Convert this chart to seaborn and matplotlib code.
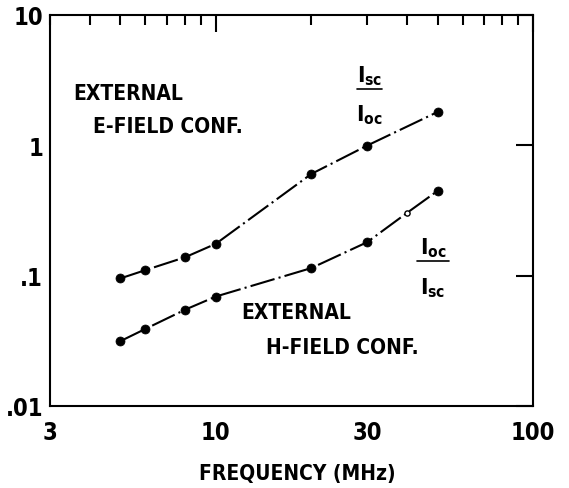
import matplotlib
matplotlib.use("Agg")
import matplotlib.pyplot as plt
from matplotlib.ticker import FixedLocator, FuncFormatter, NullLocator
import pandas as pd
import seaborn as sns

# datos
freq_sc_oc = [5, 6, 8, 10, 20, 30, 50]
ratio_sc_oc = [0.095, 0.110, 0.138, 0.175, 0.60, 0.99, 1.79]

freq_oc_sc = [5, 6, 8, 10, 20, 30, 40, 50]
ratio_oc_sc = [0.0314, 0.039, 0.0547, 0.069, 0.114, 0.180, 0.301, 0.445]
open_oc_sc = [False, False, False, False, False, False, True, False]

x_major = [10, 100]
x_minor = [3, 4, 5, 6, 7, 8, 9, 20, 30, 40, 50, 60, 70, 80, 90]
x_minor_labels = {3: "3", 30: "30"}
y_ticks = [0.01, 0.1, 1, 10]
y_labels = [".01", ".1", "1", "10"]

sns.set_theme(style="white")
plt.rcParams.update({
    "font.family": ["DejaVu Sans"],
    "font.stretch": "condensed",
    "font.weight": "bold",
    "mathtext.default": "bf",
    "text.color": "black",
    "axes.labelcolor": "black",
    "axes.edgecolor": "black",
    "axes.linewidth": 1.5,
})

fig = plt.figure(figsize=(5.69, 4.89), dpi=100, facecolor="white")
ax = fig.add_axes([50 / 569, 1 - 407 / 489, 483 / 569, 391.5 / 489])

df_up = pd.DataFrame({"f": freq_sc_oc, "r": ratio_sc_oc})
df_lo = pd.DataFrame({"f": freq_oc_sc, "r": ratio_oc_sc, "open": open_oc_sc})

estilo = dict(color="black", linewidth=1.5, linestyle=(0, (12, 2, 1, 2)))
sns.lineplot(data=df_up, x="f", y="r", ax=ax, **estilo)
sns.lineplot(data=df_lo, x="f", y="r", ax=ax, **estilo)

sns.scatterplot(data=df_up, x="f", y="r", ax=ax, color="black", s=42,
                edgecolor="black", zorder=3)
sns.scatterplot(data=df_lo[~df_lo["open"]], x="f", y="r", ax=ax, color="black",
                s=42, edgecolor="black", zorder=3)
sns.scatterplot(data=df_lo[df_lo["open"]], x="f", y="r", ax=ax, color="white",
                s=14, edgecolor="black", linewidth=1.0, zorder=3)

ax.set_xscale("log")
ax.set_yscale("log")
ax.set_xlim(3, 100)
ax.set_ylim(0.01, 10)

ax.xaxis.set_major_locator(FixedLocator(x_major))
ax.xaxis.set_major_formatter(FuncFormatter(lambda v, p: f"{v:g}"))
ax.xaxis.set_minor_locator(FixedLocator(x_minor))
ax.xaxis.set_minor_formatter(FuncFormatter(lambda v, p: x_minor_labels.get(int(round(v)), "")))
ax.yaxis.set_major_locator(FixedLocator(y_ticks))
ax.set_yticklabels(y_labels)
ax.yaxis.set_minor_locator(NullLocator())

ax.tick_params(axis="both", which="both", direction="in", top=True, right=True,
               color="black", width=1.5, labelsize=17, labelcolor="black")
ax.tick_params(axis="x", which="major", length=12, pad=10)
ax.tick_params(axis="x", which="minor", length=7, pad=10)
ax.tick_params(axis="y", which="major", length=12, pad=5)

for lab in ax.get_xticklabels(which="both") + ax.get_yticklabels():
    lab.set_fontweight("bold")
    lab.set_fontstretch("condensed")

ax.set_xlabel("FREQUENCY (MHz)", fontsize=15, fontweight="bold")
ax.xaxis.set_label_coords(0.513, -0.146)
ax.set_ylabel("")

txt = dict(transform=ax.transAxes, fontsize=15, fontweight="bold",
           va="center", ha="left")
ax.text(0.049, 0.80, "EXTERNAL", **txt)
ax.text(0.090, 0.715, "E-FIELD CONF.", **txt)
ax.text(0.395, 0.239, "EXTERNAL", **txt)
ax.text(0.447, 0.150, "H-FIELD CONF.", **txt)

frac = dict(transform=ax.transAxes, fontsize=16, va="center", ha="center")
ax.text(0.662, 0.846, r"$I_{sc}$", **frac)
ax.plot([0.635, 0.688], [0.81, 0.81], transform=ax.transAxes, color="black", lw=1.2)
ax.text(0.662, 0.745, r"$I_{oc}$", **frac)
ax.text(0.793, 0.405, r"$I_{oc}$", **frac)
ax.plot([0.759, 0.827], [0.37, 0.37], transform=ax.transAxes, color="black", lw=1.2)
ax.text(0.793, 0.303, r"$I_{sc}$", **frac)

fig.savefig("out.png", dpi=100, facecolor="white")
